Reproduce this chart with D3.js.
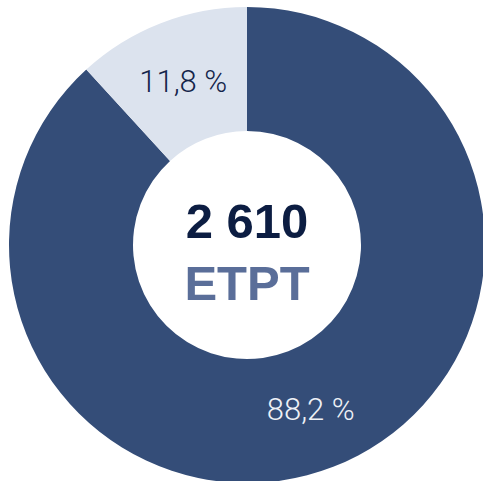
<!DOCTYPE html>
<html>
<head>
<meta charset="utf-8">
<script src="https://cdn.jsdelivr.net/npm/d3@7"></script>
<style>
  body { margin: 0; background: #fff; }
  .label { font-family: Roboto, "Liberation Sans", sans-serif; font-weight: 300; font-size: 31px; }
  .center { font-family: "Liberation Sans", Arial, sans-serif; font-weight: bold; font-size: 49px; }
</style>
</head>
<body>
<div id="chart"></div>
<script>
// data
var categories = ["A", "B"];
var values = [88.2, 11.8];
var labels = ["88,2 %", "11,8 %"];
var total = "2 610";
var unit = "ETPT";

var width = 483, height = 481;
var cx = 247, cy = 245;
var outerR = 238, innerR = 114;

var color = d3.scaleOrdinal()
    .domain(categories)
    .range(["#344d78", "#dce3ee"]);
var labelColor = d3.scaleOrdinal()
    .domain(categories)
    .range(["#eef1f6", "#14254a"]);

var svg = d3.select("#chart").append("svg")
    .attr("width", width)
    .attr("height", height)
    .append("g")
    .attr("transform", "translate(" + cx + "," + cy + ")");

var pie = d3.pie().sort(null).value(function(d){ return d; });
var arc = d3.arc().innerRadius(innerR).outerRadius(outerR);

var arcs = pie(values);

svg.selectAll("path.slice")
    .data(arcs)
    .enter().append("path")
    .attr("class", "slice")
    .attr("d", arc)
    .attr("fill", function(d, i){ return color(categories[i]); });

svg.selectAll("text.label")
    .data(arcs)
    .enter().append("text")
    .attr("class", "label")
    .attr("transform", function(d){ return "translate(" + arc.centroid(d) + ")"; })
    .attr("dy", "0.36em")
    .attr("text-anchor", "middle")
    .attr("fill", function(d, i){ return labelColor(categories[i]); })
    .text(function(d, i){ return labels[i]; });

// center text
svg.append("text")
    .attr("class", "center")
    .attr("x", 0)
    .attr("y", -7)
    .attr("text-anchor", "middle")
    .attr("fill", "#0c1d42")
    .text(total);

svg.append("text")
    .attr("class", "center")
    .attr("x", 0)
    .attr("y", 55)
    .attr("text-anchor", "middle")
    .attr("fill", "#5a6e99")
    .text(unit);
</script>
</body>
</html>
